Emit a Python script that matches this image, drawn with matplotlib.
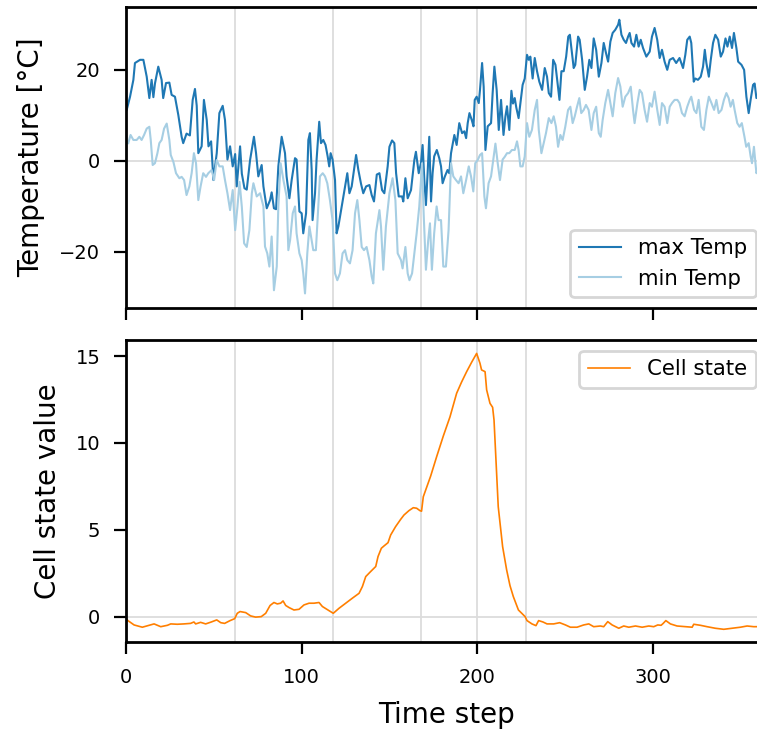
import matplotlib
matplotlib.use("Agg")
import matplotlib.pyplot as plt

# Daily maximum temperature (time step, °C)
max_day = [0.4, 2.3, 4.2, 5.1, 8.0, 9.9, 11.8, 13.3, 14.6, 15.6, 16.5, 18.4, 20.3, 21.2, 22.8,
           24.7, 26.0, 27.9, 29.8, 31.7, 32.6, 34.5, 36.4, 38.0, 39.3, 40.3, 41.2, 43.1, 44.4,
           46.0, 47.0, 48.5, 49.8, 51.7, 53.2, 55.1, 56.4, 57.8, 59.3, 60.8, 62.2, 63.1, 65.0,
           66.0, 67.5, 68.8, 70.7, 72.9, 74.1, 75.4, 77.3, 78.3, 80.2, 82.1, 83.0, 84.3, 85.5,
           86.8, 88.7, 90.6, 91.5, 93.1, 94.4, 96.3, 97.2, 98.8, 100.1, 101.0, 102.6, 103.9,
           104.8, 105.8, 106.3, 107.7, 108.6, 110.1, 111.1, 112.4, 113.7, 114.9, 115.8, 116.6,
           117.7, 119.1, 120.0, 121.0, 122.9, 124.8, 126.1, 127.3, 128.6, 131.1, 132.4, 133.9,
           135.2, 136.8, 138.7, 140.0, 141.3, 142.9, 144.4, 145.9, 147.2, 149.1, 150.1, 151.6,
           152.9, 153.9, 155.4, 157.3, 158.0, 159.2, 160.5, 162.4, 164.3, 165.2, 166.8, 168.1,
           169.0, 170.0, 170.9, 171.9, 172.8, 173.8, 174.7, 175.6, 177.1, 178.5, 179.5, 180.4,
           181.7, 183.2, 184.2, 185.2, 187.1, 188.4, 189.9, 191.5, 192.8, 193.8, 194.7, 195.7,
           197.0, 198.0, 198.7, 199.8, 201.0, 201.7, 202.9, 203.8, 204.8, 206.1, 208.0, 208.9,
           209.9, 211.2, 212.4, 213.7, 215.1, 216.2, 217.1, 218.4, 219.6, 220.5, 221.5, 222.4,
           223.7, 224.7, 226.0, 227.2, 228.5, 229.5, 230.4, 231.7, 232.9, 234.2, 235.5, 237.1,
           238.6, 239.9, 240.9, 242.2, 243.4, 244.7, 245.7, 247.0, 248.1, 249.4, 250.8, 252.0,
           252.9, 253.9, 255.1, 256.0, 257.6, 258.5, 259.9, 261.4, 262.7, 264.0, 265.2, 266.5,
           267.9, 269.4, 270.9, 272.2, 273.5, 274.7, 276.0, 277.3, 278.8, 280.4, 281.1, 282.3,
           283.6, 284.9, 286.1, 287.0, 288.0, 289.5, 290.8, 292.1, 293.3, 294.6, 296.5, 298.4,
           299.7, 301.2, 302.7, 304.1, 305.4, 306.9, 308.4, 309.8, 311.7, 313.5, 315.4, 317.4,
           318.7, 319.8, 321.2, 322.1, 323.5, 324.4, 325.9, 327.5, 328.8, 329.8, 330.7, 332.1,
           333.2, 334.5, 335.8, 337.4, 338.9, 340.2, 341.6, 342.7, 344.0, 345.3, 346.4, 347.8,
           348.8, 350.7, 352.2, 353.5, 354.8, 355.9, 357.3, 358.2, 359.2, 361.0, 363.0]
max_temp = [11.2, 14.1, 17.8, 21.5, 22.2, 22.2, 18.5, 13.8, 17.8, 14.0, 17.0, 20.7, 17.8, 13.8,
            17.1, 17.2, 14.5, 14.1, 10.1, 5.3, 3.9, 6.0, 5.6, 13.4, 15.8, 12.1, 1.7, 3.2, 13.4,
            9.0, 3.2, 4.3, -4.2, 1.7, 10.5, 12.1, 9.0, 0.3, 3.2, -1.2, 1.5, -5.6, 3.2, -2.8,
            -6.0, -6.3, 0.2, 5.3, 1.7, -3.4, -0.9, -5.6, -10.4, -8.6, -6.9, -10.4, -10.6, -1.2,
            5.3, 1.7, -3.4, -8.2, -4.2, 0.6, 0.3, -11.1, -11.5, -15.9, -11.5, 4.6, 6.1, -2.0,
            -13.0, -7.1, 0.3, 8.6, 3.9, 4.6, 3.5, 1.0, -1.2, 1.7, 0.3, -4.2, -15.9, -14.4,
            -10.0, -5.6, -2.7, -7.1, -5.6, 1.3, -2.0, -5.0, -7.1, -5.6, -5.3, -7.5, -8.9, -3.0,
            -2.7, -6.4, -7.1, -1.2, 3.1, 4.5, 3.9, -2.7, -7.8, -7.8, -8.9, -3.8, -8.2, -6.4,
            0.2, 2.0, -2.7, -0.4, 3.5, -4.2, -9.7, -2.4, 5.3, -8.9, -2.7, 1.0, 2.4, 0.6, -1.2,
            -4.9, -3.4, -2.0, -2.7, 1.7, 5.7, 3.5, 8.3, 6.1, 6.5, 5.0, 8.3, 10.5, 9.0, 7.6,
            13.4, 14.1, 12.7, 15.6, 21.5, 16.3, 2.4, 7.6, 8.3, 14.8, 20.7, 15.6, 6.8, 13.4, 5.7,
            9.8, 12.0, 6.8, 15.4, 12.6, 13.8, 11.7, 9.4, 12.6, 16.7, 18.1, 23.3, 22.2, 22.9,
            18.1, 22.6, 19.7, 17.4, 15.6, 20.4, 18.5, 14.9, 14.1, 22.2, 21.1, 17.8, 13.4, 19.7,
            19.7, 22.9, 27.3, 27.7, 24.4, 20.4, 21.1, 27.3, 26.6, 22.2, 15.6, 18.5, 22.2, 20.4,
            26.9, 24.4, 18.5, 21.5, 25.9, 23.7, 21.8, 26.2, 28.1, 28.8, 29.9, 31.0, 27.7, 26.6,
            25.9, 27.3, 28.1, 25.9, 25.1, 27.7, 25.1, 26.6, 24.8, 22.9, 24.0, 27.3, 29.2, 26.6,
            22.6, 24.4, 21.8, 20.0, 22.2, 22.6, 21.5, 22.6, 20.4, 23.3, 26.6, 27.3, 25.9, 17.4,
            18.1, 17.8, 18.5, 20.7, 24.4, 21.5, 18.5, 22.2, 25.9, 27.7, 26.6, 22.9, 24.0, 26.9,
            25.1, 27.3, 24.8, 28.1, 24.8, 21.8, 21.1, 20.0, 14.1, 10.5, 13.4, 16.7, 17.0, 13.8,
            15.5, 14.0]

# Daily minimum temperature (time step, °C)
min_day = [1.3, 2.6, 4.2, 6.1, 7.6, 8.9, 10.3, 11.8, 13.3, 14.1, 15.2, 16.5, 17.9, 19.0, 20.3,
           21.7, 23.2, 24.7, 25.5, 27.0, 28.5, 30.4, 31.7, 33.1, 34.5, 36.1, 37.4, 38.7, 39.9,
           41.2, 42.5, 44.0, 45.6, 46.9, 48.8, 50.2, 51.7, 53.2, 55.1, 56.4, 57.8, 59.3, 60.8,
           62.2, 63.5, 64.7, 66.0, 67.3, 68.8, 70.3, 71.7, 72.6, 74.5, 76.4, 78.3, 79.2, 80.5,
           81.7, 83.0, 84.3, 85.9, 86.8, 88.1, 89.7, 91.5, 92.5, 93.5, 95.0, 96.3, 97.2, 98.8,
           100.1, 101.0, 102.0, 103.3, 104.5, 105.8, 106.7, 108.2, 109.6, 110.5, 112.1, 113.4,
           114.7, 116.2, 117.7, 119.1, 120.4, 121.9, 123.4, 124.8, 126.1, 127.6, 129.1, 130.5,
           131.8, 133.0, 134.3, 135.6, 137.1, 138.7, 140.0, 140.9, 142.4, 144.4, 145.3, 146.6,
           148.1, 150.1, 151.9, 153.5, 154.8, 156.7, 157.6, 159.2, 160.5, 161.5, 163.0, 164.3,
           165.6, 167.1, 168.7, 169.6, 170.9, 172.2, 173.2, 174.3, 175.6, 177.0, 178.1, 179.5,
           180.8, 182.3, 183.8, 185.2, 186.5, 188.0, 189.5, 190.9, 192.2, 193.8, 195.3, 196.6,
           197.9, 199.0, 200.4, 201.7, 202.9, 204.2, 205.1, 206.6, 208.0, 209.3, 210.5, 211.8,
           213.1, 214.6, 215.8, 217.1, 218.4, 219.9, 221.5, 222.8, 223.7, 224.7, 226.0, 227.2,
           228.5, 229.8, 231.3, 232.9, 234.2, 235.2, 236.7, 238.0, 239.3, 240.9, 242.4, 243.7,
           245.0, 246.2, 247.5, 248.8, 250.3, 251.9, 253.2, 254.5, 255.7, 257.0, 258.3, 259.4,
           260.8, 262.1, 263.6, 265.2, 266.5, 267.9, 269.4, 270.5, 271.6, 273.1, 274.7, 276.0,
           277.3, 278.8, 280.4, 281.7, 283.0, 284.5, 286.1, 287.6, 288.9, 289.8, 291.4, 292.7,
           294.0, 295.5, 296.9, 298.4, 299.7, 301.2, 302.7, 304.1, 305.4, 306.9, 308.4, 309.8,
           311.1, 312.6, 314.2, 315.4, 316.8, 318.3, 319.8, 321.2, 322.1, 323.7, 325.0, 326.3,
           327.8, 329.3, 330.7, 332.1, 333.6, 335.1, 336.4, 337.7, 339.3, 340.7, 342.1, 343.4,
           344.5, 345.8, 346.8, 348.3, 349.6, 350.9, 352.4, 353.4, 354.8, 355.9, 356.7, 357.8,
           359.2, 361.0, 363.0]
min_temp = [3.9, 5.7, 4.6, 4.6, 5.3, 4.6, 5.7, 7.1, 7.5, 4.6, -0.9, -0.5, 1.7, 3.9, 4.6, 7.1,
            8.2, 4.6, 1.3, -0.2, -2.7, -3.8, -3.5, -4.2, -7.5, -5.6, -2.7, 1.7, -0.5, -8.6,
            -5.6, -2.7, -3.5, -2.7, -2.0, -4.2, 0.2, -1.2, -1.2, -4.2, -7.1, -10.8, -6.4, -15.2,
            -10.1, -4.6, -10.1, -18.1, -18.9, -15.2, -7.1, -4.9, -7.8, -7.1, -10.0, -18.8,
            -20.3, -23.2, -16.6, -28.4, -23.2, -10.0, -0.5, -4.2, -7.8, -19.6, -17.4, -11.5,
            -10.0, -15.9, -20.3, -21.8, -24.7, -29.1, -20.3, -14.4, -17.4, -19.6, -19.6, -10.0,
            -3.4, -2.7, -3.4, -4.9, -8.6, -13.0, -24.7, -26.2, -24.7, -20.3, -19.6, -21.8,
            -22.5, -19.6, -11.5, -8.6, -13.0, -18.9, -19.6, -18.9, -21.8, -25.4, -26.9, -15.9,
            -10.8, -14.4, -23.9, -14.4, -7.1, -3.8, -8.6, -20.3, -21.8, -23.6, -18.9, -24.7,
            -26.2, -24.7, -20.3, -15.9, -10.0, -0.5, -11.5, -23.9, -17.4, -13.7, -23.9, -15.9,
            -10.0, -13.0, -13.0, -23.2, -23.2, -15.2, -0.5, -3.4, -4.2, -4.9, -3.4, -7.1, -4.2,
            -1.2, -3.4, -6.7, -0.5, 0.2, 1.3, 1.7, -7.8, -10.4, -4.9, -3.4, 0.3, 3.8, -0.5,
            -4.2, 0.3, 0.9, 1.7, 1.7, 2.4, 2.4, 4.3, 2.4, -1.2, -1.2, 1.0, 8.3, 5.3, 6.8, 11.2,
            13.4, 6.8, 1.7, 3.9, 6.1, 9.4, 8.3, 9.8, 7.5, 3.1, 5.7, 4.6, 7.5, 11.2, 11.9, 8.3,
            9.8, 11.9, 13.8, 10.5, 11.2, 12.3, 11.2, 6.8, 10.5, 11.9, 6.1, 5.3, 9.0, 12.7,
            15.6, 12.7, 9.8, 14.9, 18.2, 16.3, 11.9, 14.1, 14.9, 16.3, 11.2, 8.3, 12.7, 15.6,
            14.9, 11.2, 8.6, 12.7, 11.9, 15.2, 11.2, 7.9, 12.7, 11.9, 8.3, 11.9, 12.7, 13.4,
            13.4, 12.7, 10.5, 9.8, 11.9, 13.4, 14.1, 11.2, 10.5, 13.4, 7.5, 6.8, 11.2, 14.1,
            12.7, 11.2, 13.4, 10.5, 11.2, 13.4, 14.9, 13.8, 11.9, 13.4, 11.2, 8.3, 7.5, 8.3,
            5.3, 3.1, 3.9, 1.0, -0.5, 3.1, -2.7, -1.0, -2.0]

# LSTM cell state over the same time steps
cell_day = [0.0, 1.1, 4.6, 9.3, 12.2, 16.0, 19.8, 23.6, 25.5, 29.2, 33.0, 36.8, 38.7, 39.7,
            42.5, 45.4, 48.6, 51.7, 54.0, 56.2, 59.3, 61.9, 63.4, 65.0, 68.2, 71.0, 73.9, 77.1,
            79.6, 82.1, 84.3, 86.2, 88.1, 89.5, 91.0, 92.9, 95.7, 98.6, 101.4, 104.3, 107.1,
            110.0, 111.9, 115.1, 118.1, 121.4, 125.2, 129.0, 132.8, 134.7, 136.6, 139.4, 142.3,
            143.6, 145.5, 147.0, 149.3, 150.8, 153.6, 156.5, 158.4, 161.2, 163.7, 165.6, 167.5,
            168.4, 169.4, 173.6, 177.0, 180.8, 184.6, 188.4, 191.2, 194.1, 197.0, 199.8,
            201.7, 202.6, 204.6, 205.5, 207.4, 208.9, 209.7, 210.8, 212.1, 214.6, 216.9, 218.8,
            220.7, 223.6, 227.4, 228.5, 231.3, 233.6, 235.1, 237.6, 239.9,
            243.7, 247.1, 250.4, 253.2, 257.0, 260.8, 263.7, 266.5, 270.3, 272.2, 274.5, 277.0,
            280.8, 283.6, 286.5, 290.3, 294.1, 297.9, 300.7, 303.0, 304.9, 306.1, 307.6, 310.2,
            314.0, 318.8, 322.6, 323.5, 327.3, 331.1, 335.8, 340.6, 345.3, 350.1, 353.9, 357.7,
            359.6, 363.0]
cell_value = [-0.1, -0.21, -0.46, -0.59, -0.51, -0.40, -0.56, -0.48, -0.40, -0.42, -0.40, -0.37,
              -0.29, -0.40, -0.31, -0.40, -0.29, -0.17, -0.33, -0.37, -0.21, -0.10, 0.21, 0.31,
              0.25, 0.06, -0.01, 0.02, 0.21, 0.66, 0.83, 0.75, 0.79, 0.92, 0.66, 0.54, 0.40,
              0.44, 0.69, 0.79, 0.79, 0.83, 0.60, 0.40, 0.21, 0.50, 0.79, 1.08, 1.36, 1.75, 2.32,
              2.61, 2.90, 3.47, 3.95, 4.08, 4.27, 4.71, 5.19, 5.61, 5.86, 6.11, 6.28, 6.25, 6.11,
              6.08, 6.91, 8.1, 9.21, 10.4, 11.5, 12.86, 13.5, 14.1, 14.65, 15.15,
              14.58, 14.2, 14.1, 13.05, 12.28, 12.05, 11.32, 9.02, 6.34, 4.04, 2.7, 1.8,
              1.17, 0.40, 0.02, -0.21, -0.40, -0.50, -0.21, -0.29, -0.40,
              -0.40, -0.33, -0.46, -0.59, -0.59, -0.46, -0.40, -0.56, -0.52, -0.56, -0.27, -0.46,
              -0.65, -0.52, -0.59, -0.52, -0.59, -0.52, -0.56, -0.46, -0.48, -0.37, -0.21, -0.40,
              -0.52, -0.56, -0.59, -0.42, -0.48, -0.56, -0.65, -0.71, -0.65, -0.59, -0.52, -0.56,
              -0.56, -0.55]

# Time steps where the cell state changes regime
event_steps = [62, 118, 168, 200, 228]
x_ticks = [0, 100, 200, 300]

dark_blue = "#1f78b4"
light_blue = "#a6cee3"
orange = "#ff7f00"
guide = "#dcdcdc"

W, H = 757, 730
fig = plt.figure(figsize=(W / 100, H / 100), dpi=100)
x_max = 365
ax_w = x_max * 1.755 / W
ax1 = fig.add_axes([126 / W, 1 - 308 / H, ax_w, 301 / H])
ax2 = fig.add_axes([126 / W, 1 - 642 / H, ax_w, 302 / H])

for ax in (ax1, ax2):
    for s in event_steps:
        ax.axvline(s, color=guide, lw=1.3, zorder=0)
    ax.axhline(0, color=guide, lw=1.3, zorder=0)
    ax.set_xlim(0, x_max)
    ax.set_xticks(x_ticks)
    for sp in ax.spines.values():
        sp.set_linewidth(2.0)
    ax.tick_params(direction="out", length=8.5, width=1.6, labelsize=14, pad=10)

ax1.plot(max_day, max_temp, color=dark_blue, lw=1.5, label="max Temp")
ax1.plot(min_day, min_temp, color=light_blue, lw=1.5, label="min Temp")
ax1.set_ylim(-32.3, 33.8)
ax1.set_yticks([-20, 0, 20])
ax1.set_yticklabels(["\u221220", "0", "20"])
ax1.tick_params(axis="x", labelbottom=False)
ax1.set_ylabel("Temperature [°C]", fontsize=20, labelpad=10)
leg1 = ax1.legend(loc="lower right", fontsize=15.3, borderaxespad=0.5)
leg1.get_frame().set_linewidth(2.0)
leg1.get_frame().set_edgecolor("#cccccc")

ax2.plot(cell_day, cell_value, color=orange, lw=1.2, label="Cell state")
ax2.set_ylim(-1.44, 15.92)
ax2.set_yticks([0, 5, 10, 15])
ax2.set_ylabel("Cell state value", fontsize=20, labelpad=10)
ax2.set_xlabel("Time step", fontsize=20, labelpad=10)
leg2 = ax2.legend(loc="upper right", fontsize=15.3, borderaxespad=0.5)
leg2.get_frame().set_linewidth(2.0)
leg2.get_frame().set_edgecolor("#cccccc")

fig.savefig("out.png", dpi=100)
